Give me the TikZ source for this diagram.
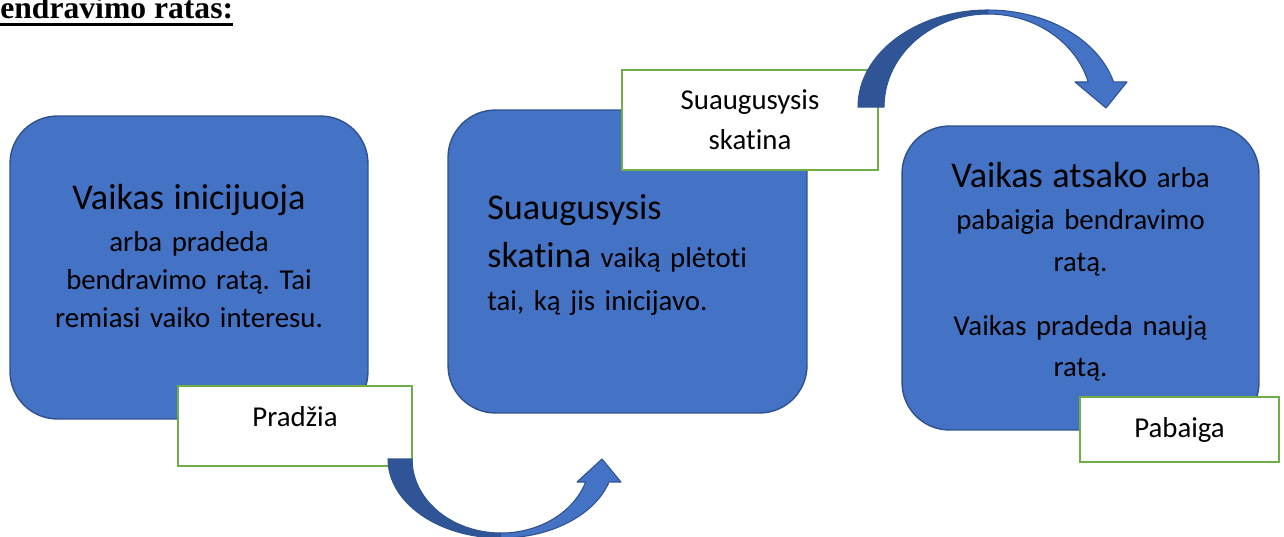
\documentclass[tikz,border=0pt]{standalone}
\usepackage{fontspec}
\setmainfont{Carlito}[RawFeature={-liga;-clig;-calt;-dlig}]
\newfontfamily\titlefont{Liberation Serif}
\frenchspacing

\definecolor{blokomelyna}{HTML}{4472C4}
\definecolor{blokokrastas}{HTML}{2F528F}
\definecolor{tamsimelyna}{HTML}{2F5597}
\definecolor{zalia}{HTML}{70AD47}

\newcommand\didelis{\fontsize{20.6}{24}\selectfont}
\newcommand\mazas{\fontsize{16.4}{21.5}\selectfont}

\begin{document}
\begin{tikzpicture}[x=0.02cm, y=-0.02cm,
    blokas/.style={draw=blokokrastas, line width=0.8pt, fill=blokomelyna,
        rounded corners=27pt, inner sep=0pt},
    tekstas/.style={inner sep=0pt, text width=6.2cm, align=center},
    zyme/.style={draw=zalia, line width=1.2pt, fill=white, inner sep=0pt,
        align=center, font=\mazas},
    lankas/.style={draw=blokokrastas, line width=0.6pt, line join=round}]

    \useasboundingbox (0,0) rectangle (1284,537);

    % Antraste (nukirpta kaireje)
    \node[anchor=base west, inner sep=0pt, font=\titlefont\bfseries\fontsize{18}{20}\selectfont]
        (antraste) at (0,19) {endravimo ratas:};
    \draw[line width=1.5pt] ([yshift=-3pt]antraste.base west) -- ([yshift=-3pt]antraste.base east);

    % Melyni blokai
    \node[blokas, minimum width=7.16cm, minimum height=6.06cm] (pradzia) at (189,267.5) {};
    \node[blokas, minimum width=7.18cm, minimum height=6.06cm] (skatina) at (627.5,261.5) {};
    \node[blokas, minimum width=7.14cm, minimum height=6.08cm] (atsako) at (1080.5,278) {};

    % Blokų tekstai
    \node[tekstas, font=\mazas] (t1) at (189,256)
        {{\didelis Vaikas inicijuoja}\\[2.3pt] arba pradeda\\ bendravimo ratą. Tai\\ remiasi vaiko interesu.};
    \node[tekstas, anchor=west, text width=6cm, align=left,
          font=\fontsize{16.4}{24.4}\selectfont] (t2) at (487,255)
        {{\didelis Suaugusysis}\\[3.4pt] {\didelis skatina} vaiką plėtoti\\ tai, ką jis inicijavo.};
    \node[tekstas, font=\fontsize{16.4}{23.8}\selectfont] (t3) at (1080.5,272)
        {{\didelis Vaikas atsako} arba\\ pabaigia bendravimo\\ ratą.\\[12.5pt] Vaikas pradeda naują\\ ratą.};

    % Zymes
    \node[zyme, minimum width=4.68cm, minimum height=1.6cm, text height=12pt, text depth=12pt]
        (zymeA) at (295,426) {Pradžia};
    \node[zyme, minimum width=5.12cm, minimum height=2cm,
          font=\fontsize{16.4}{22.7}\selectfont] (zymeB) at (750,120) {Suaugusysis\\ skatina};
    \node[zyme, minimum width=3.98cm, minimum height=1.3cm] (zymeC) at (1179.5,429.5) {Pabaiga};

    % Apatine lenkta rodykle
    \coordinate (lankasA) at (501,459);
    \begin{scope}[shift={(lankasA)}]
        \filldraw[lankas, fill=blokomelyna] (-113,0) arc[start angle=180, end angle=16.9, x radius=113, y radius=79]
            -- (120,23) -- (101,0) -- (76,23) -- (84.6,23)
            arc[start angle=18.1, end angle=180, x radius=89, y radius=74] -- cycle;
        \fill[tamsimelyna] (-113,0) arc[start angle=180, end angle=90, x radius=113, y radius=79]
            -- (0,74) arc[start angle=90, end angle=180, x radius=89, y radius=74] -- cycle;
    \end{scope}

    % Virsutine lenkta rodykle
    \coordinate (lankasB) at (988,107);
    \begin{scope}[shift={(lankasB)}]
        \filldraw[lankas, fill=blokomelyna] (-130,0) arc[start angle=180, end angle=345, x radius=130, y radius=97]
            -- (139,-25) -- (118,1) -- (87,-25) -- (100.2,-25)
            arc[start angle=344.4, end angle=180, x radius=104, y radius=93] -- cycle;
        \fill[tamsimelyna] (-130,0) arc[start angle=180, end angle=270, x radius=130, y radius=97]
            -- (0,-93) arc[start angle=270, end angle=180, x radius=104, y radius=93] -- cycle;
    \end{scope}
\end{tikzpicture}
\end{document}
